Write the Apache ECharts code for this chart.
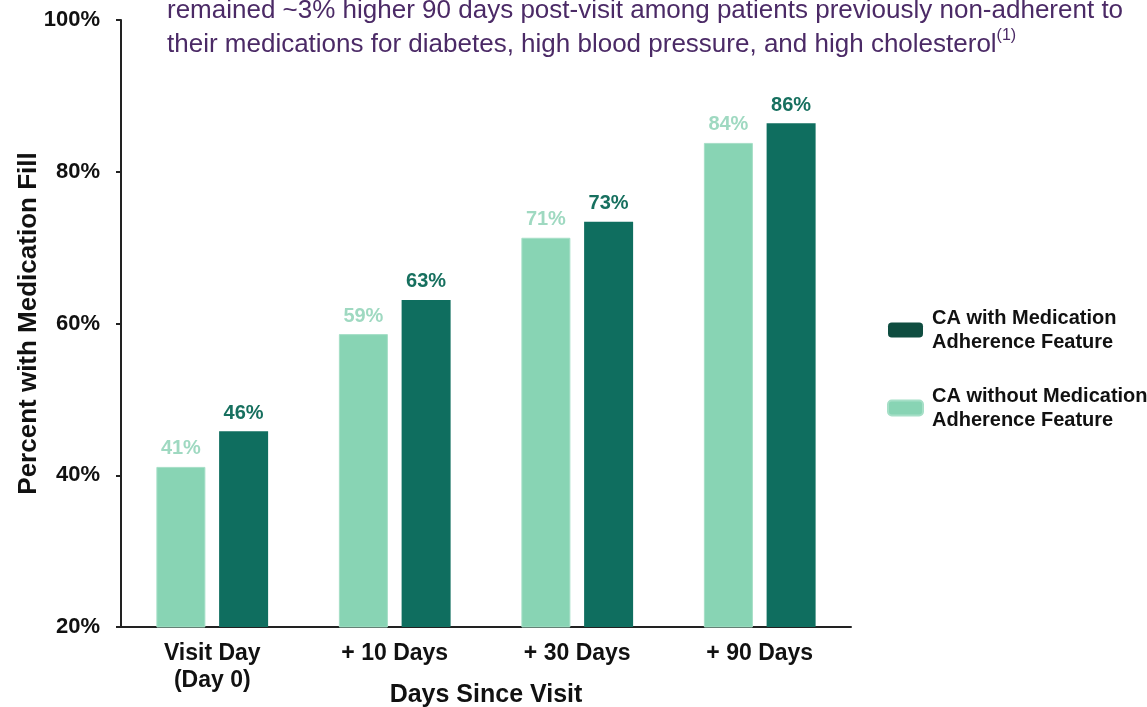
<!DOCTYPE html>
<html>
<head>
<meta charset="utf-8">
<script src="https://cdn.jsdelivr.net/npm/echarts@6/dist/echarts.min.js"></script>
<style>html,body{margin:0;padding:0;background:#fff;}#c{width:1147px;height:707px;}</style>
</head>
<body>
<div id="c"></div>
<script>
const categories = ['Visit Day\n(Day 0)', '+ 10 Days', '+ 30 Days', '+ 90 Days'];
const withoutFeature = [41.1, 58.6, 71.3, 83.8];
const withFeature = [45.8, 63.1, 73.4, 86.4];
const withoutLabels = ['41%', '59%', '71%', '84%'];
const withLabels = ['46%', '63%', '73%', '86%'];
const seriesNames = ['CA without Medication\nAdherence Feature', 'CA with Medication\nAdherence Feature'];

const chart = echarts.init(document.getElementById('c'));
const FONT = '"Liberation Sans", Arial, sans-serif';
chart.setOption({
  animation: false,
  textStyle: { fontFamily: FONT },
  title: {
    text: '{t|remained ~3% higher 90 days post-visit among patients previously non-adherent to}\n{t|their medications for diabetes, high blood pressure, and high cholesterol}{s|(1)}',
    left: 162, top: -11,
    textStyle: {
      fontWeight: 'normal',
      rich: {
        t: { fontSize: 26, fontWeight: 'normal', color: '#4B2A66', lineHeight: 34, fontFamily: FONT },
        s: { fontSize: 16, fontWeight: 'normal', color: '#4B2A66', verticalAlign: 'top', lineHeight: 34, padding: [0,0,12,0], fontFamily: FONT }
      }
    }
  },
  legend: {
    orient: 'vertical', left: 882, top: 301,
    itemWidth: 35, itemHeight: 15, itemGap: 30,
    data: [
      { name: seriesNames[1], itemStyle: { color: '#0F4D40' } },
      { name: seriesNames[0], itemStyle: { color: '#88D4B4' } }
    ],
    textStyle: { fontSize: 20, fontWeight: 'bold', color: '#111', lineHeight: 24, fontFamily: FONT, padding: [0,0,0,4] },
    selectedMode: false
  },
  grid: { left: 121, right: 296, top: 20, bottom: 80, containLabel: false, outerBoundsMode: 'none' },
  xAxis: {
    type: 'category', data: categories,
    axisLine: { lineStyle: { color: '#222', width: 2 } },
    axisTick: { show: false },
    axisLabel: { fontSize: 23, fontWeight: 'bold', color: '#111', lineHeight: 27, margin: 13, fontFamily: FONT },
    name: 'Days Since Visit', nameLocation: 'middle', nameGap: 56, nameMoveOverlap: false,
    nameTextStyle: { fontSize: 25, fontWeight: 'bold', color: '#111', fontFamily: FONT }
  },
  yAxis: {
    type: 'value', min: 20, max: 100, interval: 20,
    axisLine: { show: true, lineStyle: { color: '#222', width: 2 } },
    axisTick: { show: true, length: 5, lineStyle: { color: '#222', width: 2 } },
    splitLine: { show: false },
    axisLabel: { formatter: '{value}%', fontSize: 22, fontWeight: 'bold', color: '#111', margin: 21, fontFamily: FONT },
    name: 'Percent with Medication Fill', nameLocation: 'middle', nameGap: 79, nameMoveOverlap: false,
    nameTextStyle: { fontSize: 26, fontWeight: 'bold', color: '#111', fontFamily: FONT }
  },
  series: [
    {
      name: seriesNames[0], type: 'bar', data: withoutFeature,
      barWidth: 49, barGap: '28%',
      itemStyle: { color: '#88D4B4', borderColor: '#A6DFC7', borderWidth: 1 },
      label: { show: true, position: 'top', distance: 8, fontSize: 20, fontWeight: 'bold', color: '#9FD9C1', fontFamily: FONT,
        formatter: p => withoutLabels[p.dataIndex] }
    },
    {
      name: seriesNames[1], type: 'bar', data: withFeature,
      barWidth: 49,
      itemStyle: { color: '#0F6E5F' },
      label: { show: true, position: 'top', distance: 8, fontSize: 20, fontWeight: 'bold', color: '#17705F', fontFamily: FONT,
        formatter: p => withLabels[p.dataIndex] }
    }
  ]
});
</script>
</body>
</html>
